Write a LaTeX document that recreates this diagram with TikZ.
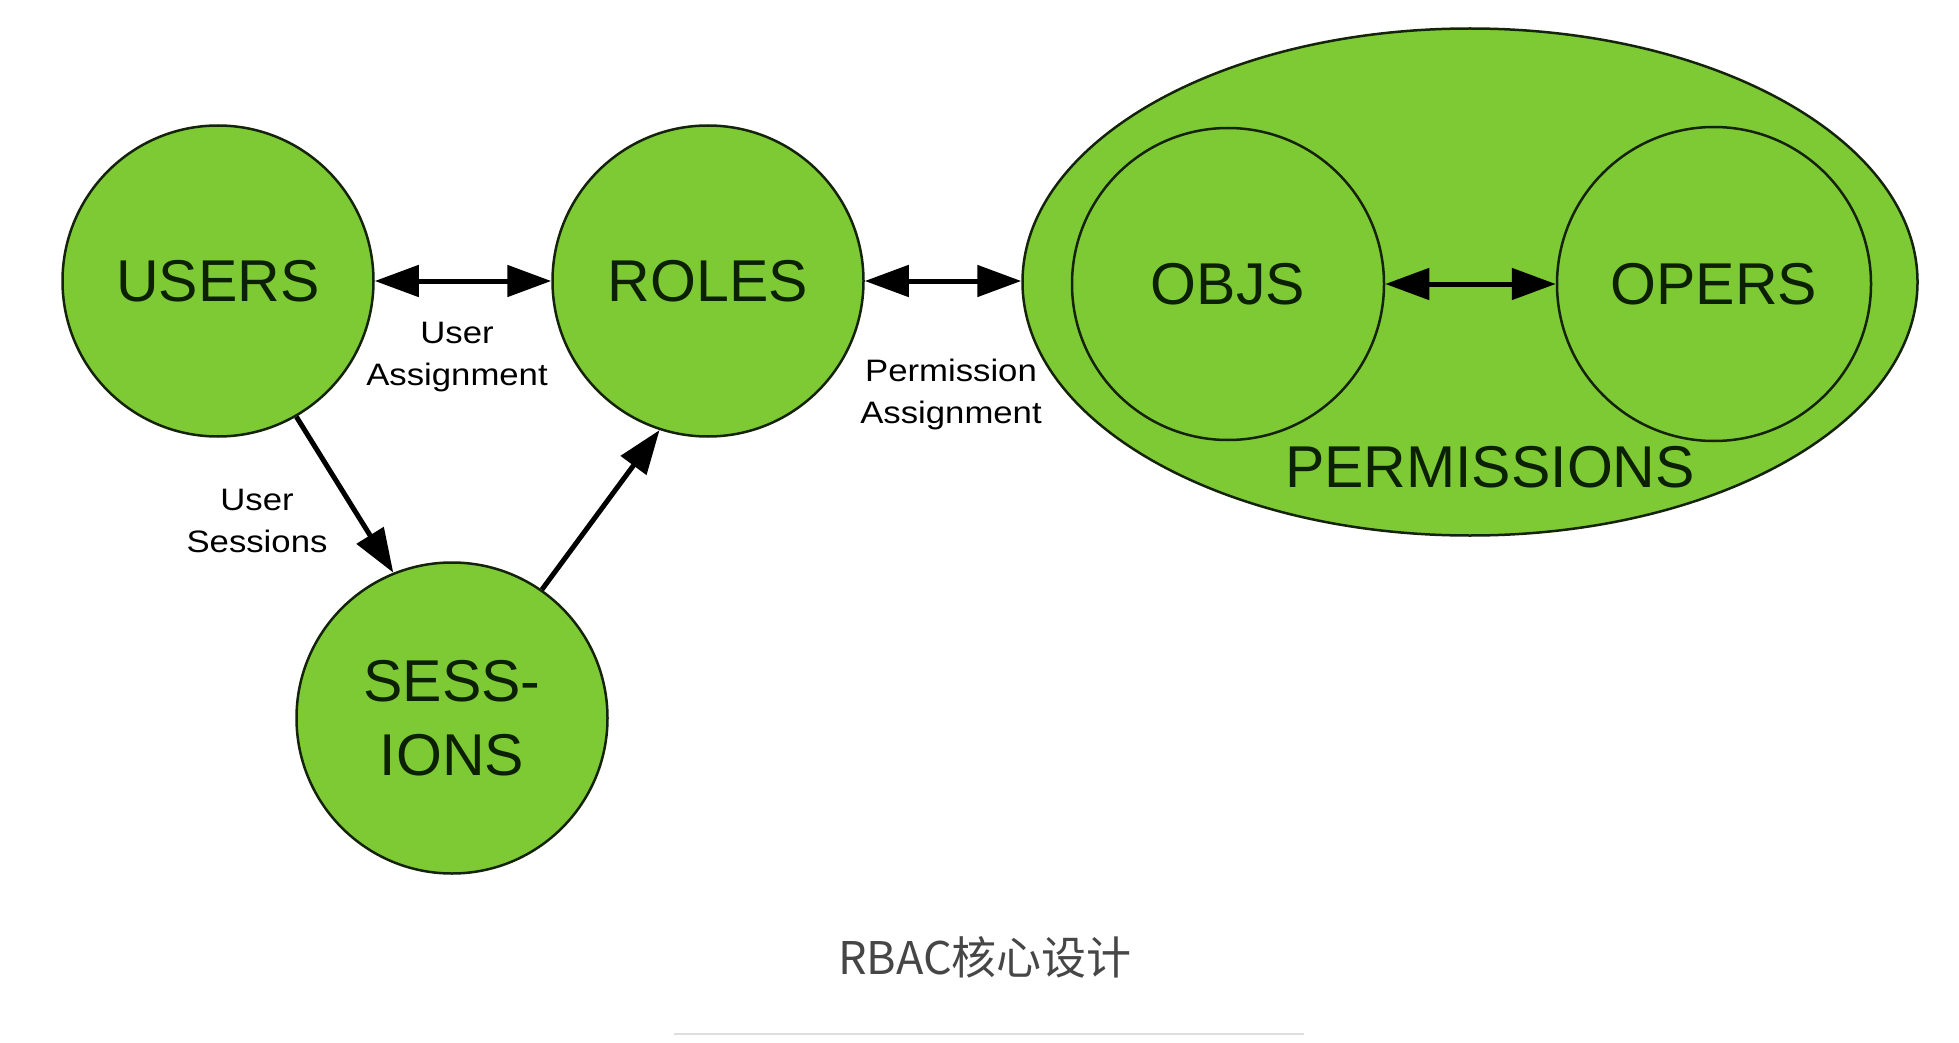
\documentclass[tikz,border=0pt]{standalone}
\usepackage{fontspec}
\setmainfont{Liberation Sans}
\newfontfamily\labfont[FakeStretch=1.12]{Liberation Sans}
\newfontfamily\cjkfont{Noto Sans CJK SC}
\usetikzlibrary{arrows.meta,shapes.geometric}
\definecolor{nodegreen}{RGB}{126,202,52}
\definecolor{edgedark}{RGB}{20,35,10}
\definecolor{labeldark}{RGB}{12,32,4}
\definecolor{captiongray}{RGB}{70,70,70}
\definecolor{rulegray}{RGB}{222,222,222}
\tikzset{
  bubble/.style={circle, draw=edgedark, line width=2.5pt, fill=nodegreen,
    minimum size=311pt, inner sep=0pt, text=labeldark,
    font=\fontsize{59}{74}\selectfont, align=center},
  bigtext/.style={text=labeldark, font=\fontsize{59}{74}\selectfont, inner sep=0pt},
  lab/.style={font=\labfont\fontsize{31}{42}\selectfont, align=center, text=black, inner sep=0pt},
  biarrow/.style={line width=5pt, draw=black,
    {Triangle[length=44pt,width=31pt]}-{Triangle[length=44pt,width=31pt]}},
  onearrow/.style={line width=5pt, draw=black, -{Triangle[length=44pt,width=31pt]}}
}
\begin{document}
\begin{tikzpicture}[x=1pt,y=-1pt]
\useasboundingbox (0,0) rectangle (1959,1043);

% permissions container
\node[ellipse, draw=edgedark, line width=2.5pt, fill=nodegreen,
      minimum width=895pt, minimum height=507pt, inner sep=0pt] (perm) at (1470,282) {};
\node[bigtext] (permtxt) at (1490,467) {PERMISSIONS};

% nodes
\node[bubble] (users) at (218,281) {USERS};
\node[bubble] (roles) at (708,281) {ROLES};
\node[bubble] (sessions) at (452,718) {SESS-\\IONS};
\node[bubble, minimum size=312pt] (objs) at (1228,284) {OBJS};
\node[bubble, minimum size=314pt] (opers) at (1714,284) {OPERS};

% connectors
\draw[biarrow] (users.east) -- (roles.west);
\draw[biarrow] (roles.east) -- (roles.east -| perm.west);
\draw[biarrow] (objs.east) -- (opers.west);
\draw[onearrow] (users.-60) -- (sessions.112);
\draw[onearrow] (sessions.55) -- (roles.-108);

% labels
\node[lab] (ualab) at (457,357) {User\\Assignment};
\node[lab] (palab) at (951,394) {Permission\\Assignment};
\node[lab] (uslab) at (257,521) {User\\Sessions};

% caption
\node[font=\cjkfont\fontsize{45}{54}\selectfont, text=captiongray, inner sep=0pt] (caption) at (985,957) {RBAC核心设计};
\coordinate (ruleL) at (674,1034);
\coordinate (ruleR) at (1304,1034);
\draw[rulegray, line width=2pt] (ruleL) -- (ruleR);
\end{tikzpicture}
\end{document}
